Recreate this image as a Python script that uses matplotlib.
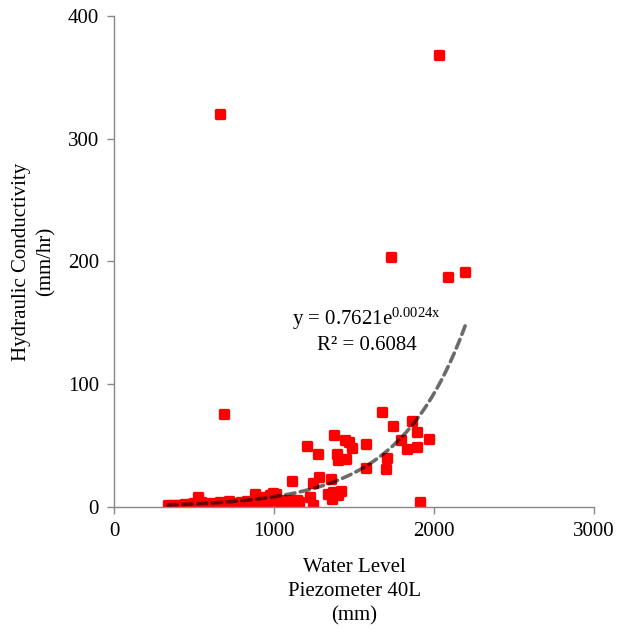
import numpy as np
import matplotlib
matplotlib.use("Agg")
import matplotlib.pyplot as plt
from matplotlib.markers import MarkerStyle

plt.rcParams['font.family'] = ['Liberation Serif', 'DejaVu Serif']
plt.rcParams['mathtext.fontset'] = 'stix'

# Water level (mm) and hydraulic conductivity (mm/hr)
water_level = [
    # low cluster
    335, 350, 365, 380, 395, 410, 425, 440, 460, 480, 500, 521, 540, 560, 580,
    600, 620, 640, 660, 680, 700, 720, 745, 770, 790, 810, 830, 850, 870, 879,
    900, 920, 942, 960, 975, 994, 1011, 1030, 1050, 1070, 1090, 1119, 1140, 1155,
    # middle
    1109, 1206, 1273, 1375, 1442, 1469, 1484, 1396, 1400, 1452, 1577, 1677, 1740,
    1859, 1894, 1796, 1831, 1894, 1969, 1706, 1698, 1577, 1911, 1244, 1283, 1355,
    1225, 1242, 1338, 1369, 1421, 1400, 1360,
    # high
    661, 686, 1729, 2030, 2090, 2194,
]
conductivity = [
    2.0, 1.0, 1.5, 0.5, 2.0, 1.0, 1.5, 2.5, 1.0, 2.5, 3.0, 8.4, 4.0, 3.0, 2.0,
    2.0, 3.5, 1.5, 4.0, 2.5, 3.0, 5.0, 2.5, 3.0, 4.0, 1.5, 5.0, 3.0, 4.5, 11.0,
    4.0, 6.0, 8.4, 5.0, 9.8, 11.2, 11.0, 4.0, 6.0, 3.0, 5.0, 5.6, 6.0, 4.0,
    21.3, 50.0, 43.4, 58.7, 54.6, 53.2, 47.8, 43.0, 38.3, 38.9, 51.3, 77.2, 66.3,
    70.1, 61.4, 54.6, 47.0, 49.2, 55.4, 39.7, 30.7, 31.5, 4.1, 19.6, 24.4, 23.0,
    8.4, 1.6, 11.0, 12.5, 13.0, 9.8, 6.5,
    320.0, 75.5, 204.0, 368.0, 187.4, 191.3,
]
# Exponential trendline y = a * exp(b x)
trend_a = 0.7621
trend_b = 0.0024
r_squared = 0.6084

x_ticks = [0, 1000, 2000, 3000]
y_ticks = [0, 100, 200, 300, 400]

fig = plt.figure(figsize=(6.21, 6.33), dpi=100)
ax = fig.add_axes([0.184, 0.199, 0.7725, 0.7758])

marker = MarkerStyle('s', joinstyle='round')
ax.scatter(water_level, conductivity, marker=marker, s=30, c='#ff0000',
           edgecolors='#ff0000', linewidths=2.4, zorder=2)

xs = np.linspace(min(water_level), max(water_level), 200)
ax.plot(xs, trend_a * np.exp(trend_b * xs), color='black', alpha=0.58,
        lw=2.6, dashes=(2.6, 1.5), dash_capstyle='round', zorder=3)

ax.text(1580, 144,
        "y = 0.7621e$^{\\mathregular{0.0024x}}$\nR² = %.4f" % r_squared,
        ha='center', va='center', fontsize=15, linespacing=1.25)

ax.set_xlim(0, 3000)
ax.set_ylim(0, 400)
ax.set_xticks(x_ticks)
ax.set_yticks(y_ticks)
ax.tick_params(axis='both', labelsize=15, color='#888888', length=5,
               width=1, direction='out')
ax.tick_params(axis='x', pad=6)
ax.tick_params(axis='y', pad=6)
for s in ['top', 'right']:
    ax.spines[s].set_visible(False)
for s in ['left', 'bottom']:
    ax.spines[s].set_color('#888888')
    ax.spines[s].set_linewidth(1)

ax.set_xlabel("Water Level\nPiezometer 40L\n(mm)", fontsize=15,
              linespacing=1.38, labelpad=12)
ax.set_ylabel("Hydraulic Conductivity\n(mm/hr)", fontsize=15,
              linespacing=1.38, labelpad=9)

fig.savefig("out.png", dpi=100)
